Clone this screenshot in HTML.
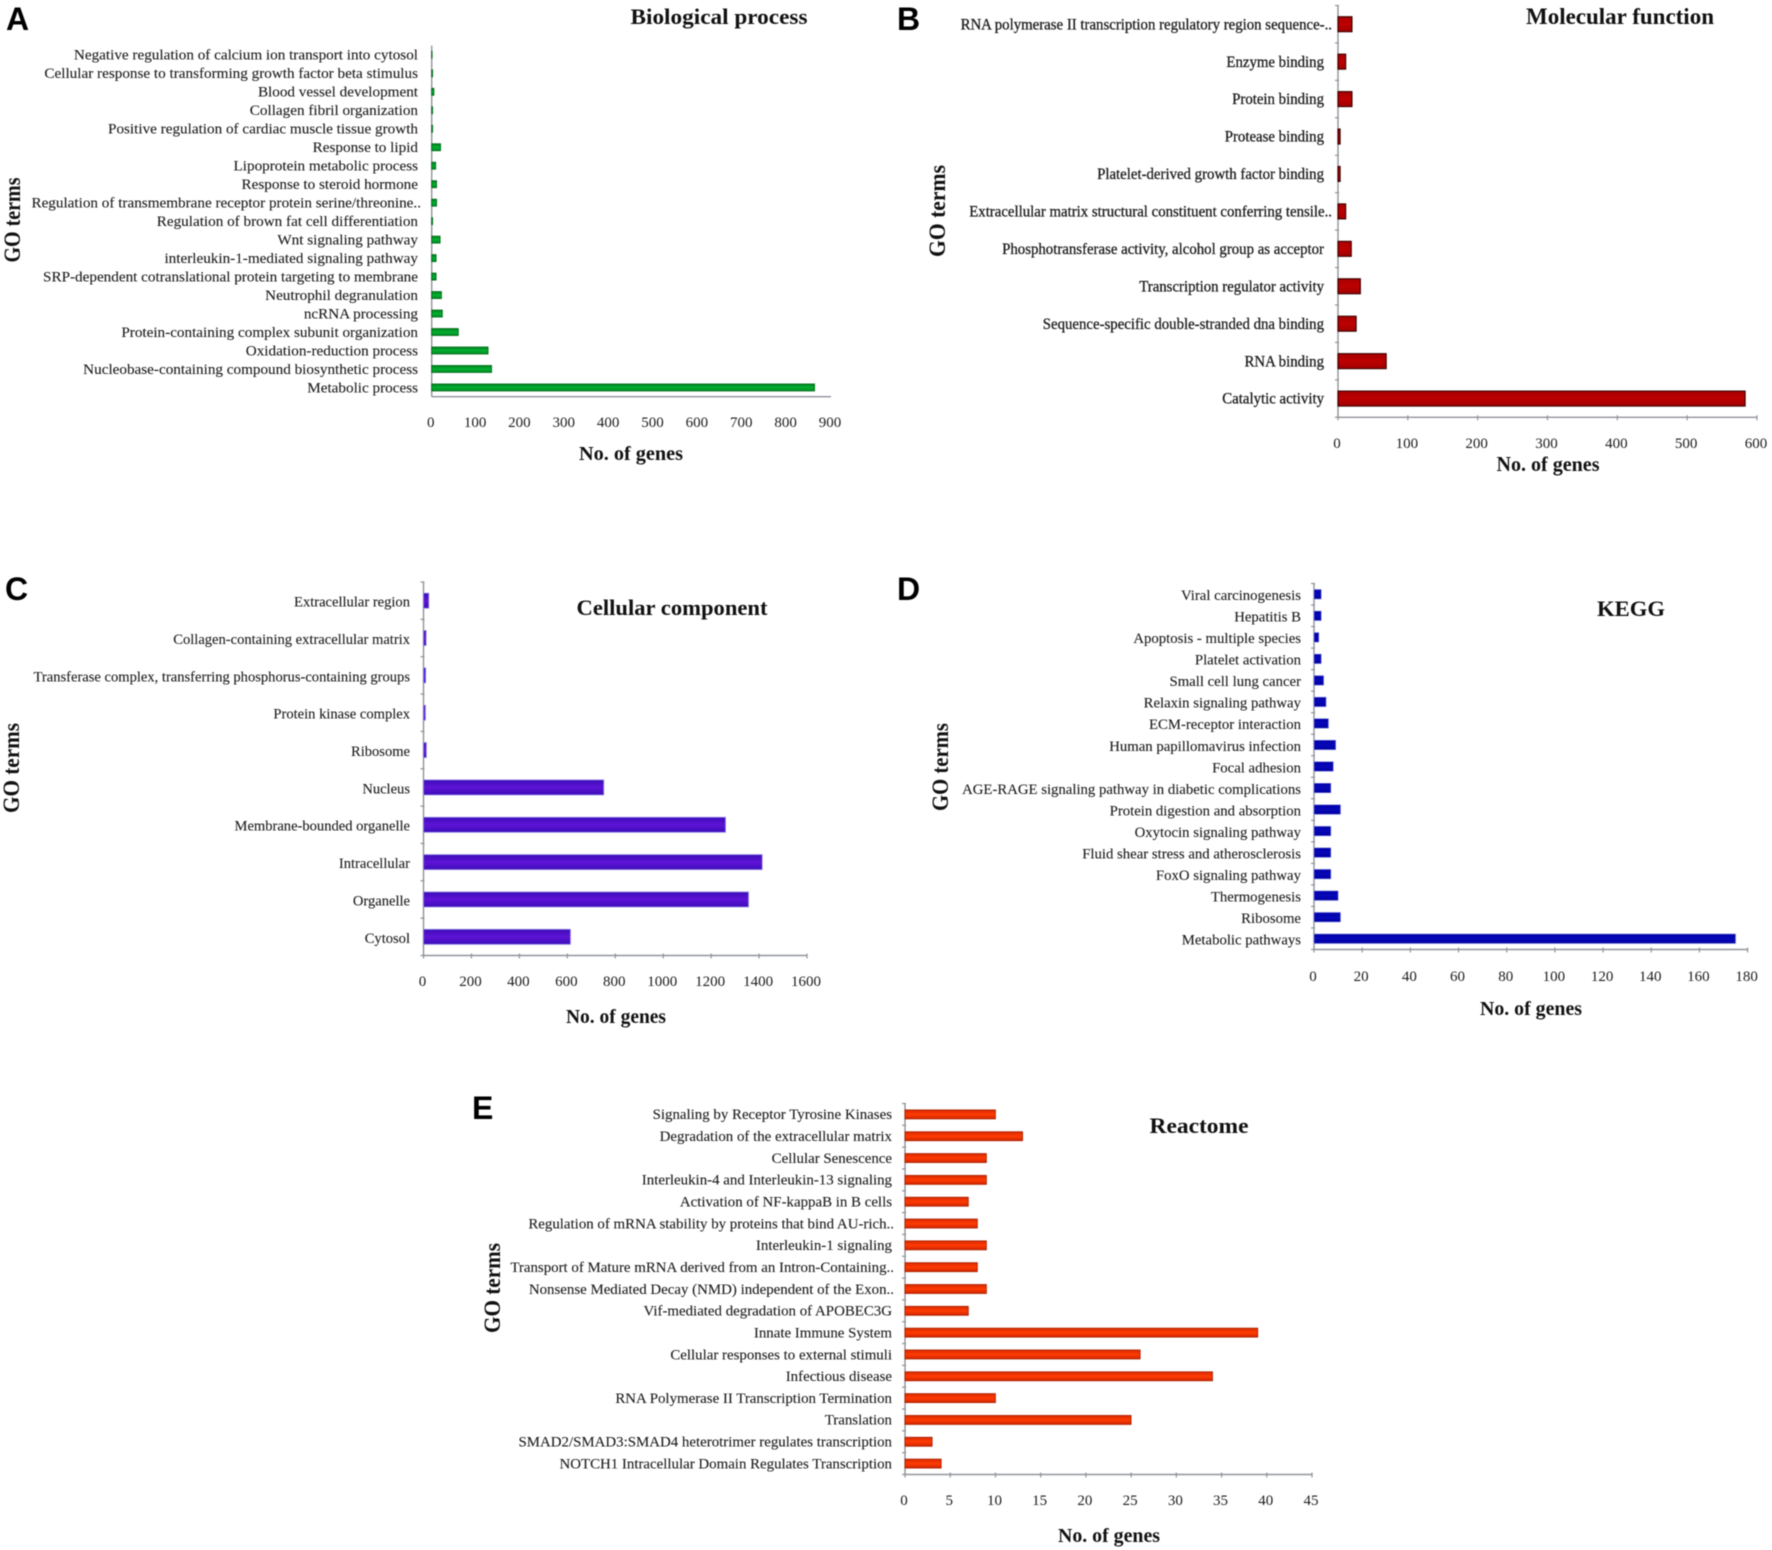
<!DOCTYPE html>
<html lang="en">
<head>
<meta charset="utf-8">
<title>GO, KEGG and Reactome enrichment bar charts</title>
<style>
  html, body { margin: 0; padding: 0; background: #fff; }
  #figure { display: block; width: 1772px; height: 1550px; filter: blur(0.55px); }
  .serif { font-family: "Liberation Serif", serif; fill: #1c1c1c; }
  .heading { font-family: "Liberation Serif", serif; font-weight: bold; fill: #111; }
  .letter { font-family: "Liberation Sans", sans-serif; font-weight: bold; font-size: 32px; fill: #000; }
</style>
</head>
<body>
<svg id="figure" xmlns="http://www.w3.org/2000/svg" width="1772" height="1550" viewBox="0 0 1772 1550">
  <defs>
    <linearGradient id="grad-a" x1="0" y1="0" x2="0" y2="1">
      <stop offset="0" stop-color="#00801f"/><stop offset="0.5" stop-color="#00b030"/><stop offset="1" stop-color="#008a22"/>
    </linearGradient>
    <linearGradient id="grad-b" x1="0" y1="0" x2="0" y2="1">
      <stop offset="0" stop-color="#a80000"/><stop offset="0.5" stop-color="#bd0000"/><stop offset="1" stop-color="#a00000"/>
    </linearGradient>
    <linearGradient id="grad-c" x1="0" y1="0" x2="0" y2="1">
      <stop offset="0" stop-color="#3c0cb8"/><stop offset="0.5" stop-color="#5f14d6"/><stop offset="1" stop-color="#3c0cb8"/>
    </linearGradient>
    <linearGradient id="grad-d" x1="0" y1="0" x2="0" y2="1">
      <stop offset="0" stop-color="#0000a8"/><stop offset="0.5" stop-color="#0808b8"/><stop offset="1" stop-color="#0000a0"/>
    </linearGradient>
    <linearGradient id="grad-e" x1="0" y1="0" x2="0" y2="1">
      <stop offset="0" stop-color="#d82800"/><stop offset="0.5" stop-color="#ff3c00"/><stop offset="1" stop-color="#d02400"/>
    </linearGradient>
  </defs>

  <g id="panel-a">
    <text class="letter" x="6" y="30">A</text>
    <text class="heading" x="719" y="24" font-size="22" text-anchor="middle" textLength="177" lengthAdjust="spacingAndGlyphs">Biological process</text>
    <text class="heading" x="631" y="460" font-size="20" text-anchor="middle" textLength="104" lengthAdjust="spacingAndGlyphs">No. of genes</text>
    <text class="heading" transform="translate(20,220) rotate(-90)" font-size="23" text-anchor="middle" textLength="85" lengthAdjust="spacingAndGlyphs">GO terms</text>
  </g>

  <g id="panel-b">
    <text class="letter" x="897" y="30">B</text>
    <text class="heading" x="1620" y="24" font-size="23" text-anchor="middle" textLength="188" lengthAdjust="spacingAndGlyphs">Molecular function</text>
    <text class="heading" x="1548" y="471" font-size="21" text-anchor="middle" textLength="103" lengthAdjust="spacingAndGlyphs">No. of genes</text>
    <text class="heading" transform="translate(945,211) rotate(-90)" font-size="23" text-anchor="middle" textLength="92" lengthAdjust="spacingAndGlyphs">GO terms</text>
  </g>

  <g id="panel-c">
    <text class="letter" x="5" y="600">C</text>
    <text class="heading" x="672" y="615" font-size="22" text-anchor="middle" textLength="191" lengthAdjust="spacingAndGlyphs">Cellular component</text>
    <text class="heading" x="616" y="1023" font-size="20" text-anchor="middle" textLength="100" lengthAdjust="spacingAndGlyphs">No. of genes</text>
    <text class="heading" transform="translate(19,768) rotate(-90)" font-size="23" text-anchor="middle" textLength="90" lengthAdjust="spacingAndGlyphs">GO terms</text>
  </g>

  <g id="panel-d">
    <text class="letter" x="897" y="600">D</text>
    <text class="heading" x="1631" y="616" font-size="22" text-anchor="middle" textLength="68" lengthAdjust="spacingAndGlyphs">KEGG</text>
    <text class="heading" x="1531" y="1015" font-size="20" text-anchor="middle" textLength="102" lengthAdjust="spacingAndGlyphs">No. of genes</text>
    <text class="heading" transform="translate(948,767) rotate(-90)" font-size="23" text-anchor="middle" textLength="88" lengthAdjust="spacingAndGlyphs">GO terms</text>
  </g>

  <g id="panel-e">
    <text class="letter" x="472" y="1119">E</text>
    <text class="heading" x="1199" y="1133" font-size="22" text-anchor="middle" textLength="99" lengthAdjust="spacingAndGlyphs">Reactome</text>
    <text class="heading" x="1109" y="1542" font-size="20" text-anchor="middle" textLength="102" lengthAdjust="spacingAndGlyphs">No. of genes</text>
    <text class="heading" transform="translate(500,1288) rotate(-90)" font-size="23" text-anchor="middle" textLength="90" lengthAdjust="spacingAndGlyphs">GO terms</text>
  </g>
</svg>

<script>
const categoriesA = [
  "Negative regulation of calcium ion transport into cytosol",
  "Cellular response to transforming growth factor beta stimulus",
  "Blood vessel development",
  "Collagen fibril organization",
  "Positive regulation of cardiac muscle tissue growth",
  "Response to lipid",
  "Lipoprotein metabolic process",
  "Response to steroid hormone",
  "Regulation of transmembrane receptor protein serine/threonine..",
  "Regulation of brown fat cell differentiation",
  "Wnt signaling pathway",
  "interleukin-1-mediated signaling pathway",
  "SRP-dependent cotranslational protein targeting to membrane",
  "Neutrophil degranulation",
  "ncRNA processing",
  "Protein-containing complex subunit organization",
  "Oxidation-reduction process",
  "Nucleobase-containing compound biosynthetic process",
  "Metabolic process"
];
const valuesA = [1, 2, 5, 2, 2, 20, 9, 11, 11, 2, 19, 10, 10, 22, 24, 60, 127, 135, 863];
const ticksA = [0, 100, 200, 300, 400, 500, 600, 700, 800, 900];

const categoriesB = [
  "RNA polymerase II transcription regulatory region sequence-..",
  "Enzyme binding",
  "Protein binding",
  "Protease binding",
  "Platelet-derived growth factor binding",
  "Extracellular matrix structural constituent conferring tensile..",
  "Phosphotransferase activity, alcohol group as acceptor",
  "Transcription regulator activity",
  "Sequence-specific double-stranded dna binding",
  "RNA binding",
  "Catalytic activity"
];
const valuesB = [20, 11, 20, 3, 3, 11, 19, 32, 26, 69, 583];
const ticksB = [0, 100, 200, 300, 400, 500, 600];

const categoriesC = [
  "Extracellular region",
  "Collagen-containing extracellular matrix",
  "Transferase complex, transferring phosphorus-containing groups",
  "Protein kinase complex",
  "Ribosome",
  "Nucleus",
  "Membrane-bounded organelle",
  "Intracellular",
  "Organelle",
  "Cytosol"
];
const valuesC = [22, 11, 9, 8, 12, 752, 1260, 1413, 1356, 613];
const ticksC = [0, 200, 400, 600, 800, 1000, 1200, 1400, 1600];

const categoriesD = [
  "Viral carcinogenesis",
  "Hepatitis B",
  "Apoptosis - multiple species",
  "Platelet activation",
  "Small cell lung cancer",
  "Relaxin signaling pathway",
  "ECM-receptor interaction",
  "Human papillomavirus infection",
  "Focal adhesion",
  "AGE-RAGE signaling pathway in diabetic complications",
  "Protein digestion and absorption",
  "Oxytocin signaling pathway",
  "Fluid shear stress and atherosclerosis",
  "FoxO signaling pathway",
  "Thermogenesis",
  "Ribosome",
  "Metabolic pathways"
];
const valuesD = [3, 3, 2, 3, 4, 5, 6, 9, 8, 7, 11, 7, 7, 7, 10, 11, 175];
const ticksD = [0, 20, 40, 60, 80, 100, 120, 140, 160, 180];

const categoriesE = [
  "Signaling by Receptor Tyrosine Kinases",
  "Degradation of the extracellular matrix",
  "Cellular Senescence",
  "Interleukin-4 and Interleukin-13 signaling",
  "Activation of NF-kappaB in B cells",
  "Regulation of mRNA stability by proteins that bind AU-rich..",
  "Interleukin-1 signaling",
  "Transport of Mature mRNA derived from an Intron-Containing..",
  "Nonsense Mediated Decay (NMD) independent of the Exon..",
  "Vif-mediated degradation of APOBEC3G",
  "Innate Immune System",
  "Cellular responses to external stimuli",
  "Infectious disease",
  "RNA Polymerase II Transcription Termination",
  "Translation",
  "SMAD2/SMAD3:SMAD4 heterotrimer regulates transcription",
  "NOTCH1 Intracellular Domain Regulates Transcription"
];
const valuesE = [10, 13, 9, 9, 7, 8, 9, 8, 9, 7, 39, 26, 34, 10, 25, 3, 4];
const ticksE = [0, 5, 10, 15, 20, 25, 30, 35, 40, 45];

const SVG_NS = "http://www.w3.org/2000/svg";

function drawPanel(key, categories, values, ticks, frame, look) {
  const group = document.getElementById("panel-" + key);
  const maxTick = ticks[ticks.length - 1];
  const xAxis = function (v) { return frame.left + (v / maxTick) * (frame.right - frame.left); };
  const band = (frame.bottom - frame.top) / categories.length;
  const yAxis = function (i) { return frame.top + (i + 0.5) * band; };

  const yLine = document.createElementNS(SVG_NS, "line");
  
  
  yLine.setAttribute("x1", frame.left);
  yLine.setAttribute("x2", frame.left);
  yLine.setAttribute("y1", frame.top);
  yLine.setAttribute("y2", frame.bottom);
  yLine.setAttribute("stroke", "#8f9399");
  yLine.setAttribute("stroke-width", "1.4");
  group.appendChild(yLine);

  const xLine = document.createElementNS(SVG_NS, "line");
  
  
  xLine.setAttribute("x1", frame.left);
  xLine.setAttribute("x2", frame.right);
  xLine.setAttribute("y1", frame.bottom);
  xLine.setAttribute("y2", frame.bottom);
  xLine.setAttribute("stroke", "#8f9399");
  xLine.setAttribute("stroke-width", "1.4");
  group.appendChild(xLine);

  ticks.forEach(function (tick) {
    if (look.tickMarks) {
      const mark = document.createElementNS(SVG_NS, "line");
      
      
      mark.setAttribute("x1", xAxis(tick));
      mark.setAttribute("x2", xAxis(tick));
      mark.setAttribute("y1", frame.bottom - 2);
      mark.setAttribute("y2", frame.bottom + 3);
      mark.setAttribute("stroke", "#8f9399");
      mark.setAttribute("stroke-width", "1.2");
      group.appendChild(mark);
    }
    const label = document.createElementNS(SVG_NS, "text");
    
    
    label.setAttribute("class", "serif");
    label.setAttribute("x", xAxis(tick) - 1);
    label.setAttribute("y", look.tickY);
    label.setAttribute("dy", "0.33em");
    label.setAttribute("text-anchor", "middle");
    label.setAttribute("font-size", look.tickSize);
    label.textContent = tick;
    group.appendChild(label);
  });

  if (look.tickMarks) {
    for (let b = 0; b <= categories.length; b++) {
      const notch = document.createElementNS(SVG_NS, "line");
      
      
      notch.setAttribute("x1", frame.left - 3);
      notch.setAttribute("x2", frame.left + 1);
      notch.setAttribute("y1", frame.top + b * band);
      notch.setAttribute("y2", frame.top + b * band);
      notch.setAttribute("stroke", "#8f9399");
      notch.setAttribute("stroke-width", "1.2");
      group.appendChild(notch);
    }
  }

  // One horizontal squeeze for all category labels in a panel, fitted to the reference's longest label.
  const probe = document.createElementNS(SVG_NS, "text");
  probe.setAttribute("class", "serif");
  probe.setAttribute("font-size", look.labelSize);
  probe.textContent = categories[look.fitIndex];
  group.appendChild(probe);
  const squeeze = look.fitWidth / probe.getComputedTextLength();
  group.removeChild(probe);

  categories.forEach(function (name, i) {
    const label = document.createElementNS(SVG_NS, "text");
    
    
    label.setAttribute("class", "serif");
    label.setAttribute("font-size", look.labelSize);
    label.setAttribute("text-anchor", "end");
    label.setAttribute("dy", "0.33em");
    label.setAttribute("stroke", "#1c1c1c");
    label.setAttribute("stroke-width", look.labelHeft);
    const overhang = name.slice(-2) === ".." ? look.dotOverhang : 0;
    label.setAttribute("transform", "translate(" + (look.labelRight + overhang) + "," + (yAxis(i) + look.labelDy) + ") scale(" + squeeze + ",1)");
    label.textContent = name;
    group.appendChild(label);

    const bar = document.createElementNS(SVG_NS, "rect");
    
    
    bar.setAttribute("x", xAxis(0));
    bar.setAttribute("y", yAxis(i) - look.barHeight / 2);
    bar.setAttribute("width", xAxis(values[i]) - xAxis(0));
    bar.setAttribute("height", look.barHeight);
    bar.setAttribute("fill", "url(#grad-" + key + ")");
    bar.setAttribute("stroke", look.barEdge);
    bar.setAttribute("stroke-width", look.edgeWidth);
    group.appendChild(bar);
  });
}

drawPanel("a", categoriesA, valuesA, ticksA,
  { left: 431.7, right: 831, top: 45.6, bottom: 396.7 },
  { tickMarks: false, tickY: 422, tickSize: 15, labelSize: 14.5, labelHeft: 0.1, labelRight: 418, labelDy: 0, dotOverhang: 3, fitIndex: 8, fitWidth: 390, barHeight: 7, barEdge: "#006a18", edgeWidth: 0.8 });

drawPanel("b", categoriesB, valuesB, ticksB,
  { left: 1338, right: 1757, top: 5.5, bottom: 417.3 },
  { tickMarks: true, tickY: 443, tickSize: 15, labelSize: 15.5, labelHeft: 0.3, labelRight: 1324, labelDy: 0, dotOverhang: 8, fitIndex: 0, fitWidth: 372, barHeight: 15, barEdge: "#3a0000", edgeWidth: 1.1 });

drawPanel("c", categoriesC, valuesC, ticksC,
  { left: 423.5, right: 807, top: 582, bottom: 955.5 },
  { tickMarks: true, tickY: 981, tickSize: 15, labelSize: 15, labelHeft: 0.1, labelRight: 410, labelDy: 1, dotOverhang: 0, fitIndex: 2, fitWidth: 377, barHeight: 15, barEdge: "#8f88e6", edgeWidth: 0.8 });

drawPanel("d", categoriesD, valuesD, ticksD,
  { left: 1314, right: 1747.6, top: 583.5, bottom: 949.5 },
  { tickMarks: true, tickY: 976, tickSize: 15, labelSize: 14.5, labelHeft: 0.1, labelRight: 1301, labelDy: 1, dotOverhang: 0, fitIndex: 9, fitWidth: 339, barHeight: 9.5, barEdge: "#7f86e0", edgeWidth: 0.6 });

drawPanel("e", categoriesE, valuesE, ticksE,
  { left: 905, right: 1312, top: 1103.5, bottom: 1474.5 },
  { tickMarks: true, tickY: 1500, tickSize: 15, labelSize: 14.5, labelHeft: 0.1, labelRight: 892, labelDy: 0, dotOverhang: 2, fitIndex: 15, fitWidth: 374, barHeight: 9, barEdge: "#a82000", edgeWidth: 0.8 });
</script>
</body>
</html>
